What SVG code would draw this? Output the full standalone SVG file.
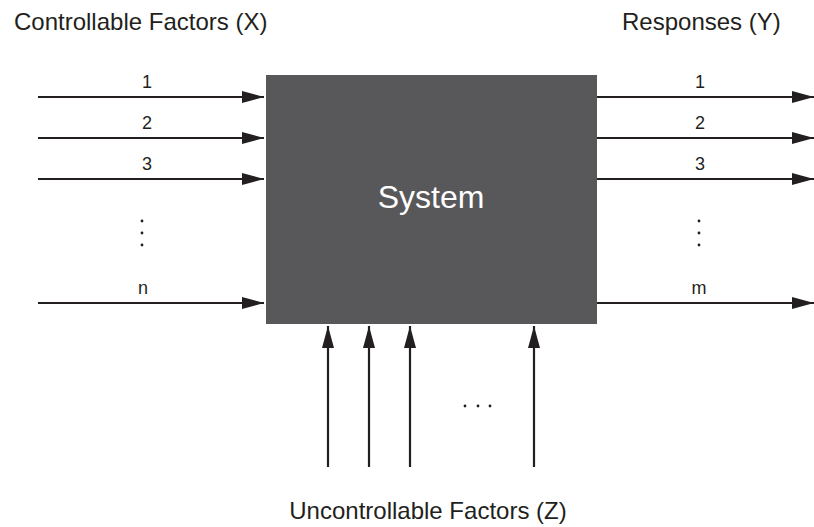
<svg xmlns="http://www.w3.org/2000/svg" width="814" height="527" viewBox="0 0 814 527">
<style>
text{font-family:"Liberation Sans",Arial,sans-serif;fill:#231f20}
.lbl{font-size:18px;text-anchor:middle}
.ttl{font-size:24px}
.c{stroke:#231f20;stroke-width:2.2;fill:none}
.dot{fill:#231f20}
</style>
<defs>
<marker id="ah" markerWidth="22" markerHeight="12" refX="22" refY="6" orient="auto" markerUnits="userSpaceOnUse">
<path d="M0,0 L22,6 L0,12 Z" fill="#231f20"/>
</marker>
</defs>
<g id="system">
<rect x="266" y="75" width="331" height="249" fill="#58585a"/>
<text x="431" y="208" font-size="32" text-anchor="middle" style="fill:#ffffff">System</text>
</g>
<g id="connectors">
<line class="c" x1="38" y1="97" x2="264" y2="97" marker-end="url(#ah)"/>
<line class="c" x1="38" y1="138" x2="264" y2="138" marker-end="url(#ah)"/>
<line class="c" x1="38" y1="179" x2="264" y2="179" marker-end="url(#ah)"/>
<line class="c" x1="38" y1="303" x2="264" y2="303" marker-end="url(#ah)"/>
<line class="c" x1="597" y1="97" x2="814" y2="97" marker-end="url(#ah)"/>
<line class="c" x1="597" y1="138" x2="814" y2="138" marker-end="url(#ah)"/>
<line class="c" x1="597" y1="179" x2="814" y2="179" marker-end="url(#ah)"/>
<line class="c" x1="597" y1="303" x2="814" y2="303" marker-end="url(#ah)"/>
<line class="c" x1="328" y1="467" x2="328" y2="326" marker-end="url(#ah)"/>
<line class="c" x1="369" y1="467" x2="369" y2="326" marker-end="url(#ah)"/>
<line class="c" x1="410" y1="467" x2="410" y2="326" marker-end="url(#ah)"/>
<line class="c" x1="534" y1="467" x2="534" y2="326" marker-end="url(#ah)"/>
</g>
<g id="inputs">
<text class="ttl" x="14" y="30">Controllable Factors (X)</text>
<text class="lbl" x="147" y="88">1</text>
<text class="lbl" x="147" y="129">2</text>
<text class="lbl" x="147" y="170">3</text>
<circle class="dot" cx="142" cy="221" r="1.4"/>
<circle class="dot" cx="142" cy="233" r="1.4"/>
<circle class="dot" cx="142" cy="245" r="1.4"/>
<text class="lbl" x="143" y="294">n</text>
</g>
<g id="outputs">
<text class="ttl" x="622" y="30">Responses (Y)</text>
<text class="lbl" x="700" y="88">1</text>
<text class="lbl" x="700" y="129">2</text>
<text class="lbl" x="700" y="170">3</text>
<circle class="dot" cx="699" cy="221" r="1.4"/>
<circle class="dot" cx="699" cy="233" r="1.4"/>
<circle class="dot" cx="699" cy="245" r="1.4"/>
<text class="lbl" x="699" y="294">m</text>
</g>
<g id="noise">
<circle class="dot" cx="465" cy="406" r="1.4"/>
<circle class="dot" cx="478" cy="406" r="1.4"/>
<circle class="dot" cx="490" cy="406" r="1.4"/>
<text class="ttl" x="428" y="519" text-anchor="middle">Uncontrollable Factors (Z)</text>
</g>
</svg>
